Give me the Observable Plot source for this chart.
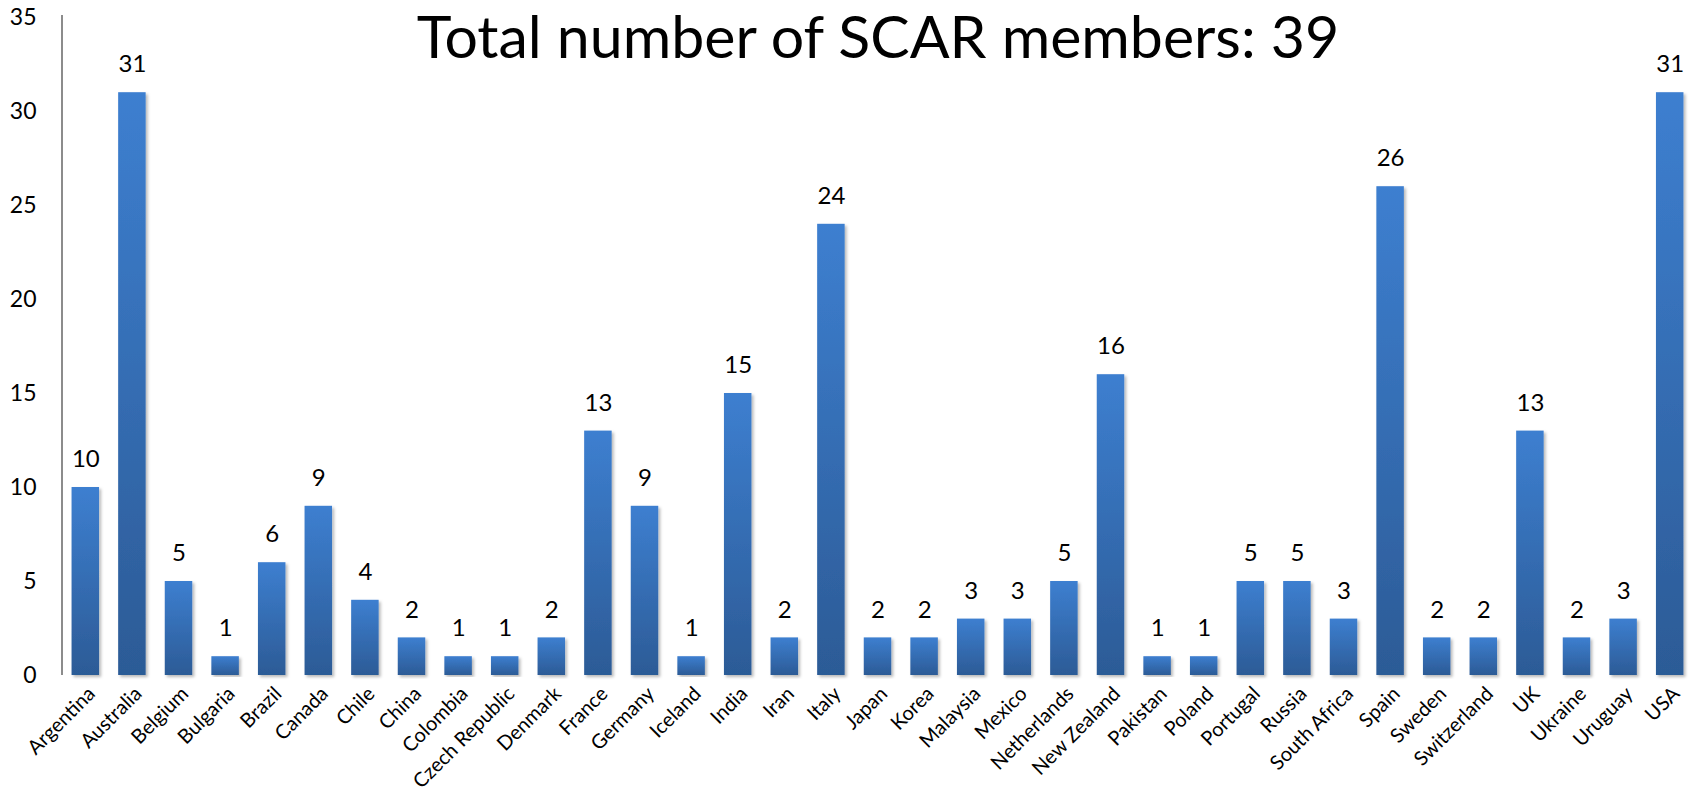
<!DOCTYPE html>
<html>
<head>
<meta charset="utf-8">
<script src="https://cdn.jsdelivr.net/npm/d3@7"></script>
<script src="https://cdn.jsdelivr.net/npm/@observablehq/plot@0.6"></script>
<style>
  html, body { margin: 0; padding: 0; background: #fff; }
  #chart svg { display: block; }
</style>
</head>
<body>
<div id="chart"></div>
<script>
const countries = ["Argentina","Australia","Belgium","Bulgaria","Brazil","Canada","Chile","China","Colombia","Czech Republic","Denmark","France","Germany","Iceland","India","Iran","Italy","Japan","Korea","Malaysia","Mexico","Netherlands","New Zealand","Pakistan","Poland","Portugal","Russia","South Africa","Spain","Sweden","Switzerland","UK","Ukraine","Uruguay","USA"];
const members = [10,31,5,1,6,9,4,2,1,1,2,13,9,1,15,2,24,2,2,3,3,5,16,1,1,5,5,3,26,2,2,13,2,3,31];
const yTicks = [0,5,10,15,20,25,30,35];
const titleText = "Total number of SCAR members: 39";

const data = countries.map((c, i) => ({country: c, value: members[i]}));

const W = 1693, H = 798;
const mL = 62, mR = 0, mT = 17, mB = 123;

function defsMark() {
  const defs = d3.create("svg:defs");
  const g = defs.append("linearGradient").attr("id", "barGrad")
    .attr("x1", 0).attr("y1", 0).attr("x2", 0).attr("y2", 1);
  g.append("stop").attr("offset", "0%").attr("stop-color", "#3d7fd0");
  g.append("stop").attr("offset", "100%").attr("stop-color", "#2c5b96");
  const f = defs.append("filter").attr("id", "shadow")
    .attr("x", "-20%").attr("y", "-5%").attr("width", "150%").attr("height", "115%");
  f.append("feDropShadow").attr("dx", 2).attr("dy", 2).attr("stdDeviation", 1.8)
    .attr("flood-color", "#000").attr("flood-opacity", 0.28);
  return defs.node();
}

function axisLines(index, scales, values, dims) {
  const g = d3.create("svg:g");
  const x0 = dims.marginLeft, y0 = dims.height - dims.marginBottom;
  g.append("line").attr("x1", x0).attr("x2", x0).attr("y1", dims.marginTop - 2).attr("y2", y0)
    .attr("stroke", "#8c8c8c").attr("stroke-width", 2);
  g.append("line").attr("x1", x0 - 1).attr("x2", dims.width - dims.marginRight).attr("y1", y0).attr("y2", y0)
    .attr("stroke", "#8c8c8c").attr("stroke-width", 2).attr("filter", "url(#shadow)");
  return g.node();
}

const chart = Plot.plot({
  width: W,
  height: H,
  marginLeft: mL,
  marginRight: mR,
  marginTop: mT,
  marginBottom: mB,
  style: {fontFamily: "Lato, sans-serif", color: "#000", background: "#fff"},
  x: {domain: countries, paddingInner: 0.41, paddingOuter: 0.205, round: false, label: null},
  y: {domain: [0, 35], label: null},
  marks: [
    defsMark,
    Plot.barY(data, {x: "country", y: "value", fill: "url(#barGrad)"}),
    axisLines,
    Plot.axisY({ticks: yTicks, tickSize: 0, tickPadding: 26, fontSize: 23, label: null}),
    Plot.axisX({tickSize: 0, tickPadding: 15, tickRotate: -45, fontSize: 20, label: null, dx: 6}),
    Plot.text(data, {x: "country", y: "value", text: d => String(d.value), dy: -28, fontSize: 24, fill: "#000"}),
    Plot.text([titleText], {frameAnchor: "top", lineAnchor: "top", dy: -1, fontSize: 59, fill: "#000"})
  ]
});

d3.select(chart).selectAll("g[aria-label='bar'] rect").attr("filter", "url(#shadow)");
document.getElementById("chart").appendChild(chart);
</script>
</body>
</html>
